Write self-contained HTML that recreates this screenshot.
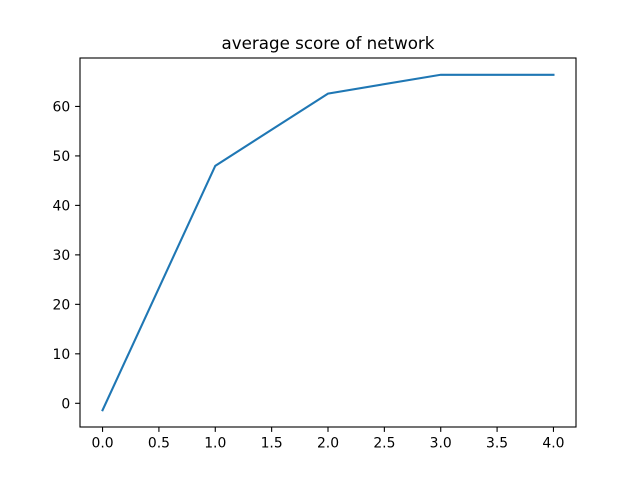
<!DOCTYPE html>
<html><head><meta charset="utf-8"><style>body{margin:0;background:#fff}svg{display:block}text{font-family:"DejaVu Sans","Liberation Sans",sans-serif;font-size:13.9px;fill:#000}</style></head>
<body>
<svg id="chart" width="640" height="480">
<rect width="640" height="480" fill="#fff"/>
<text x="328" y="49" text-anchor="middle" style="font-size:16.7px">average score of network</text>
<g id="axes"></g>
</svg>
<script>
const xValues=[0,1,2,3,4];
const yValues=[-1.4,48,62.6,66.4,66.4];
const xTicks=[0,0.5,1,1.5,2,2.5,3,3.5,4];
const yTicks=[0,10,20,30,40,50,60];
const L=80,R=576,T=58,B=427;
const xmin=-0.2,xmax=4.2;
const ymin=Math.min(...yValues),ymax=Math.max(...yValues),pad=(ymax-ymin)*0.05;
const y0=ymin-pad,y1=ymax+pad;
const sx=v=>L+(v-xmin)/(xmax-xmin)*(R-L);
const sy=v=>B-(v-y0)/(y1-y0)*(B-T);
const g=document.getElementById('axes');
const NS='http://www.w3.org/2000/svg';
function mk(t,a){const e=document.createElementNS(NS,t);for(const k in a)e.setAttribute(k,a[k]);g.appendChild(e);return e;}
let d=xValues.map((x,i)=>(i?'L':'M')+sx(x)+','+sy(yValues[i])).join('');
let p=mk('path',{d:d,fill:'none',stroke:'#1f77b4','stroke-width':2.1,'stroke-linecap':'square'});


xTicks.forEach(v=>{const x=sx(v);
let l=mk('line',{x1:x,x2:x,y1:B,y2:B+4.9,stroke:'#000','stroke-width':1.1});


let t=mk('text',{x:x,y:B+20.5,'text-anchor':'middle'});t.textContent=v.toFixed(1);

});
yTicks.forEach(v=>{const y=sy(v);
let l=mk('line',{x1:L-4.9,x2:L,y1:y,y2:y,stroke:'#000','stroke-width':1.1});


let t=mk('text',{x:L-9.8,y:y+5,'text-anchor':'end'});t.textContent=v;

});
let f=mk('rect',{x:L,y:T,width:R-L,height:B-T,fill:'none',stroke:'#000','stroke-width':1.1});


</script>
</body></html>
